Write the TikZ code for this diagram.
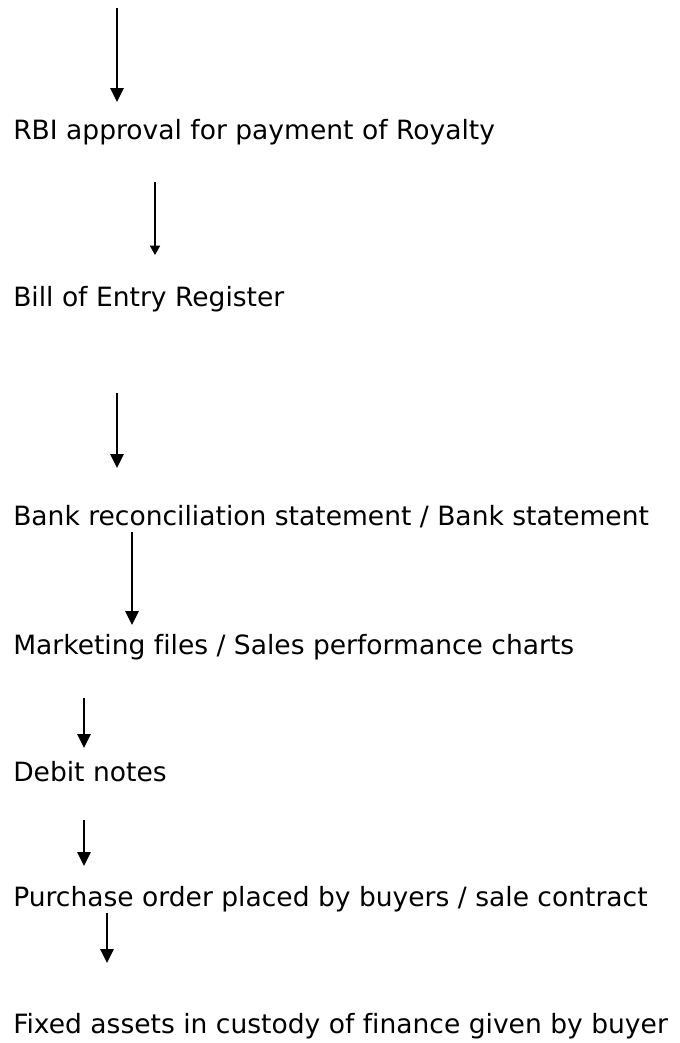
\documentclass[tikz,border=0pt]{standalone}
\usepackage{fontspec}
\setmainfont[Ligatures=NoCommon]{DejaVu Sans}
\usetikzlibrary{arrows.meta}
\tikzset{
  label text/.style={anchor=base west, inner sep=0pt, font=\fontsize{19.9pt}{23pt}\selectfont},
  flow/.style={line width=1.5pt, -{Triangle[length=10.5pt, width=10pt]}},
  flow small/.style={line width=1.2pt, -{Triangle[length=7pt, width=7.5pt]}}
}
\begin{document}
\begin{tikzpicture}[x=0.75pt, y=-0.75pt]
  \useasboundingbox (0,0) rectangle (679,1043);
  % document labels
  \node[label text] (t1) at (13,139) {RBI approval for payment of Royalty};
  \node[label text] (t2) at (13,306) {Bill of Entry Register};
  \node[label text] (t3) at (13,525) {Bank reconciliation statement / Bank statement};
  \node[label text] (t4) at (13,654) {Marketing files / Sales performance charts};
  \node[label text] (t5) at (13,781) {Debit notes};
  \node[label text] (t6) at (13,906) {Purchase order placed by buyers / sale contract};
  \node[label text] (t7) at (13,1033) {Fixed assets in custody of finance given by buyer};
  % arrow end points
  \coordinate (a1s) at (117,8);   \coordinate (a1e) at (117,102);
  \coordinate (a2s) at (155,182); \coordinate (a2e) at (155,255);
  \coordinate (a3s) at (117,393); \coordinate (a3e) at (117,468);
  \coordinate (a4s) at (132,532); \coordinate (a4e) at (132,625);
  \coordinate (a5s) at (84,698);  \coordinate (a5e) at (84,748);
  \coordinate (a6s) at (84,820);  \coordinate (a6e) at (84,866);
  \coordinate (a7s) at (107,913); \coordinate (a7e) at (107,963);
  % arrows
  \draw[flow] (a1s) -- (a1e);
  \draw[flow small] (a2s) -- (a2e);
  \draw[flow] (a3s) -- (a3e);
  \draw[flow] (a4s) -- (a4e);
  \draw[flow] (a5s) -- (a5e);
  \draw[flow] (a6s) -- (a6e);
  \draw[flow] (a7s) -- (a7e);
\end{tikzpicture}
\end{document}
